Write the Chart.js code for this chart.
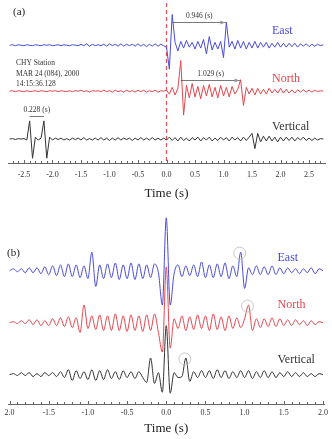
<!DOCTYPE html>
<html>
<head>
<meta charset="utf-8">
<script src="https://cdn.jsdelivr.net/npm/chart.js@4.4.1/dist/chart.umd.min.js"></script>
<style>
  html, body { margin: 0; padding: 0; background: #fff; }
  #wrap { position: relative; width: 332px; height: 439px; }
  #boxA { position: absolute; left: 0; top: 0; width: 332px; height: 200px; }
  #boxB { position: absolute; left: 0; top: 200px; width: 332px; height: 239px; }
</style>
</head>
<body>
<div id="wrap">
  <div id="boxA"><canvas id="chartA"></canvas></div>
  <div id="boxB"><canvas id="chartB"></canvas></div>
</div>
<script>
// ---- panel (a): raw records, sampled every 0.05 s from -2.75 s ----
const startA = -2.75, stepA = 0.05;
const ticksA = [-2.5, -2.0, -1.5, -1.0, -0.5, 0.0, 0.5, 1.0, 1.5, 2.0, 2.5];
const tickLabelsA = ['-2.5', '-2.0', '-1.5', '-1.0', '-0.5', '0.0', '0.5', '1.0', '1.5', '2.0', '2.5'];

const eastA = [
  0, 0.5, -0.5, 0.5, 0, -0.5, 0.5, 0, -0.5, 0.5, 0,
  -0.5, 0.5, 0, 0.5, -0.5, 0, 0.5, -0.5, 0.5, 0, -0.5,
  0.5, 0, -0.5, 1, -0.5, 1.5, -1, 1, -0.5, 0.5, -0.5,
  1, -1, 1.5, -0.5, 1, -1, 1.5, -1, 1, -0.5, 1,
  -1, 1.5, -1, 1, -1.5, 1, -1, 1.5, -1, 1, -0.5,
  -2, -25, 32, 3, -6, 4, -3, 5, -2, 3, -4,
  4, -3, 6, -9, 9, -5, 3, -4, 4, -13, 24,
  -2, 4, -4, 5, -3, 4, -4, 3, -3, 4, -3,
  3, -2, 3, -3, 2, -2, 3, -2, 2, -2, 2,
  -1.5, 2, -2, 1.5, -1, 1.5, -1.5, 1, -1, 1, -0.5, 0.5
];
const northA = [
  0, 0.5, -0.5, 0.5, 0, -0.5, 0.5, -0.5, 0, 0.5, -0.5,
  0.5, 0, -0.5, 0.5, 0, 0.5, -0.5, 0.5, 0, -0.5, 0.5,
  -0.5, 0.5, 0, 1, -0.5, 0.5, -1, 0.5, 0, 0.5, -0.5,
  1, -0.5, 0.5, -1, 1, -0.5, 0.5, -1, 1, -0.5, 0.5,
  -1, 1, -0.5, 1, -1, 0.5, -0.5, 1, -1, 0.5, 0,
  1, -3, 4, -4, 3, 32, -25, 6, -7, 8, -6,
  5, -8, 6, -5, 7, -6, 4, -7, 6, -5, 4,
  -6, 5, -3, 2, 12, -15, 4, -3, 3, -4, 3,
  -3, 2, -3, 3, -2, 2, -2, 3, -2, 2, -2,
  1.5, -2, 1.5, -1, 1.5, -1, 1, -1, 1, -0.5, 0.5, 0
];
const vertA = [
  0, 0.5, -0.5, 0.5, 0, 0.5, -1, 19, -20, 2, -1,
  1, 19, -20, 2, -1, 1, -0.5, 1, -1, 0.5, -1,
  1, -0.5, 1, -1, 1.5, -1, 0.5, -1, 1, -1, 1.5,
  -1, 1, -1.5, 1, -1, 1.5, -1, 1, -0.5, 1, -1.5,
  1, -1, 1.5, -1, 1, -1, 1.5, -1, 1, -1, 1,
  -1, 2, -1.5, 1.5, -2, 2, -1.5, 1, -2, 1.5, -1,
  2, -2, 1.5, -1, 2, -2, 1, -1.5, 2, -1, 1.5,
  -2, 2, -1, 1.5, -2, 2, -1.5, 2, 6, -10, 6,
  -3, 3, -2, 3, -2, 2, -3, 2, -2, 2, -1.5,
  2, -2, 1.5, -1, 2, -1.5, 1, -1.5, 1, -1, 0.5, 0
];

// ---- panel (b): aligned records, sampled every 0.05 s from -2.0 s ----
const startB = -2.0, stepB = 0.05;
const ticksB = [-2.0, -1.5, -1.0, -0.5, 0.0, 0.5, 1.0, 1.5, 2.0];
const tickLabelsB = ['2.0', '-1.5', '-1.0', '-0.5', '0.0', '0.5', '1.0', '1.5', '2.0'];

const eastB = [
  0, 2, -1, 2, -2, 3, -2, 3, -3, 4,
  -4, 5, -5, 6, -6, 7, -6, 6, -7, 5,
  -8, 19, -16, 6, -8, 7, -7, 8, -9, 6,
  -8, 8, -9, 7, -8, 6, -7, 7, -2, -35,
  54, -35, -3, 6, -6, 5, -5, 6, -6, 9,
  -7, 6, -7, 7, -6, 8, -8, 5, -6, 19,
  -18, 3, -4, 5, -4, 4, -4, 5, -4, 3,
  -3, 3, -2, 2, -3, 2, -2, 3, -3, 2,
  0
];
const northB = [
  0, 1, -1, 2, -1, 3, -2, 3, -3, 2,
  -3, 4, -3, 5, -4, 6, -5, 5, -10, 18,
  -6, 7, -7, 8, -8, 7, -8, 9, -8, 7,
  -9, 8, -8, 7, -9, 8, -8, 9, -10, -30,
  57, -26, 4, -6, 7, -8, 6, -7, 8, -6,
  7, -8, 9, -7, 6, -8, 7, -6, 5, -5,
  4, 18, -8, 4, -5, 4, -4, 5, -4, 4,
  -3, 3, -3, 3, -2, 2, -3, 2, -2, 1,
  0
];
const vertB = [
  0, 1, -1, 2, -1, 2, -2, 1, -2, 2,
  -1, 2, -2, 3, -3, 5, -6, 4, -4, 3,
  -5, 5, -6, 4, -5, 5, -4, 3, -5, 4,
  -3, 3, -4, 3, -3, -8, 17, -9, 2, -18,
  50, -19, 2, -3, -2, 17, -7, 3, -3, 4,
  -3, 4, -4, 5, -3, 4, -4, 3, -3, 4,
  -3, 4, -4, 3, -3, 4, -3, 3, -3, 2,
  -2, 3, -2, 2, -2, 2, -2, 1, -2, 1,
  0
];

// picked peaks in (b), sample index per trace (east, north, vertical)
const circledB = [59, 61, 45];

const names = ['East', 'North', 'Vertical'];
const colors = ['#4a4ad8', '#e4464e', '#333333'];
const serif = "'Liberation Serif', 'DejaVu Serif', serif";

function toPoints(start, step, values, offset) {
  return values.map((v, i) => ({ x: +(start + i * step).toFixed(3), y: v + offset }));
}

function makeSets(start, step, series, offsets, smooth) {
  return series.map((vals, k) => ({
    label: names[k],
    data: toPoints(start, step, vals, offsets[k]),
    borderColor: colors[k],
    borderWidth: 1,
    pointRadius: 0,
    tension: 0,
    cubicInterpolationMode: smooth ? 'monotone' : 'default'
  }));
}

function axisTicks(chart, step, majorEvery) {
  const ctx = chart.ctx, xs = chart.scales.x, area = chart.chartArea;
  ctx.save();
  ctx.strokeStyle = '#666';
  ctx.lineWidth = 1;
  const n0 = Math.ceil(xs.min / step), n1 = Math.floor(xs.max / step);
  for (let n = n0; n <= n1; n++) {
    const px = Math.round(xs.getPixelForValue(n * step)) + 0.5;
    const len = n % majorEvery === 0 ? 3 : 2;
    ctx.beginPath();
    ctx.moveTo(px, area.bottom);
    ctx.lineTo(px, area.bottom - len);
    ctx.stroke();
  }
  ctx.restore();
}

function textAt(ctx, str, x, y, size, color, align) {
  ctx.font = size + 'px ' + serif;
  ctx.fillStyle = color;
  ctx.textAlign = align || 'left';
  ctx.textBaseline = 'middle';
  ctx.fillText(str, x, y);
}

const offsetsA = [-2, -50, -100];
const offsetsB = [-22, -75, -128];

// interval marks in (a): dataset, first sample, second sample, text, lift in px
const spansA = [
  { ds: 0, from: 57, to: 76, text: '0.946 (s)', lift: 0 },
  { ds: 1, from: 60, to: 81, text: '1.029 (s)', lift: 0 },
  { ds: 2, from: 7, to: 12, text: '0.228 (s)', lift: 5 }
];

const decorA = {
  id: 'decorA',
  beforeDatasetsDraw(chart) {
    const ctx = chart.ctx, xs = chart.scales.x, area = chart.chartArea;
    const x0 = xs.getPixelForValue(0);
    ctx.save();
    ctx.strokeStyle = '#e8505a';
    ctx.lineWidth = 1.2;
    ctx.setLineDash([4, 3]);
    ctx.beginPath();
    ctx.moveTo(x0, area.top - 2);
    ctx.lineTo(x0, area.bottom);
    ctx.stroke();
    ctx.restore();
  },
  afterDatasetsDraw(chart) {
    const ctx = chart.ctx, xs = chart.scales.x, ys = chart.scales.y;
    axisTicks(chart, 0.1, 5);
    ctx.save();
    spansA.forEach(s => {
      const pts = chart.getDatasetMeta(s.ds).data;
      const xa = pts[s.from].x, xb = pts[s.to].x;
      const y = Math.round(pts[s.to].y - s.lift) + 0.5;
      ctx.strokeStyle = '#555';
      ctx.lineWidth = 0.8;
      ctx.beginPath();
      ctx.moveTo(xa, y);
      ctx.lineTo(xb, y);
      ctx.stroke();
      if (s.lift === 0) {
        ctx.beginPath();
        ctx.moveTo(xb - 1, y);
        ctx.lineTo(xb - 6, y - 2);
        ctx.lineTo(xb - 6, y + 2);
        ctx.closePath();
        ctx.fillStyle = '#999';
        ctx.fill();
      }
      textAt(ctx, s.text, (xa + xb) / 2, y - 6, 7.5, '#333', 'center');
    });
    const lx = xs.getPixelForValue(1.85);
    const lifts = [15, 13, 13];
    names.forEach((nm, k) => {
      textAt(ctx, nm, lx, ys.getPixelForValue(offsetsA[k] + lifts[k]), 12, colors[k]);
    });
    textAt(ctx, '(a)', 13, 12, 11, '#222');
    textAt(ctx, 'CHY Station', 16, 63, 7.5, '#333');
    textAt(ctx, 'MAR 24 (084), 2000', 16, 74, 7.5, '#333');
    textAt(ctx, '14:15:36.128', 16, 84, 7.5, '#333');
    ctx.restore();
  }
};

const decorB = {
  id: 'decorB',
  afterDatasetsDraw(chart) {
    const ctx = chart.ctx, xs = chart.scales.x, ys = chart.scales.y;
    axisTicks(chart, 0.1, 5);
    ctx.save();
    ctx.strokeStyle = '#bbbbbb';
    ctx.lineWidth = 0.8;
    circledB.forEach((idx, k) => {
      const p = chart.getDatasetMeta(k).data[idx];
      ctx.beginPath();
      ctx.arc(p.x - 1, p.y + 1, 6, 0, Math.PI * 2);
      ctx.stroke();
    });
    const lx = xs.getPixelForValue(1.42);
    const lifts = [13, 18, 15];
    names.forEach((nm, k) => {
      textAt(ctx, nm, lx, ys.getPixelForValue(offsetsB[k] + lifts[k]), 12, colors[k]);
    });
    textAt(ctx, '(b)', 7, 53, 11, '#222');
    ctx.restore();
  }
};

function xAxis(min, max, ticks, labels, pad) {
  return {
    type: 'linear', min: min, max: max,
    afterBuildTicks: s => { s.ticks = ticks.map(v => ({ value: v })); },
    ticks: {
      callback: (v, i) => labels[i],
      font: { family: serif, size: 8 },
      color: '#333', padding: pad, maxRotation: 0, autoSkip: false
    },
    grid: { display: false, drawTicks: false },
    border: { display: true, color: '#666', width: 1 },
    title: {
      display: true, text: 'Time (s)', color: '#222', padding: 0,
      font: { family: serif, size: 13, lineHeight: 1 }
    }
  };
}

const common = {
  responsive: true,
  maintainAspectRatio: false,
  animation: false,
  events: [],
  plugins: { legend: { display: false }, tooltip: { enabled: false } }
};

new Chart(document.getElementById('chartA'), {
  type: 'line',
  data: { datasets: makeSets(startA, stepA, [eastA, northA, vertA], offsetsA, false) },
  options: Object.assign({}, common, {
    layout: { padding: { left: 8, right: 7, top: 5, bottom: 0.4 } },
    scales: {
      x: xAxis(-2.78, 2.78, ticksA, tickLabelsA, 7),
      y: { display: false, min: -125, max: 40 }
    }
  }),
  plugins: [decorA]
});

new Chart(document.getElementById('chartB'), {
  type: 'line',
  data: { datasets: makeSets(startB, stepB, [eastB, northB, vertB], offsetsB, true) },
  options: Object.assign({}, common, {
    layout: { padding: { left: 8, right: 7, top: 10, bottom: 4.4 } },
    scales: {
      x: xAxis(-2.02, 2.02, ticksB, tickLabelsB, 4),
      y: { display: false, min: -158, max: 40 }
    }
  }),
  plugins: [decorB]
});
</script>
</body>
</html>
